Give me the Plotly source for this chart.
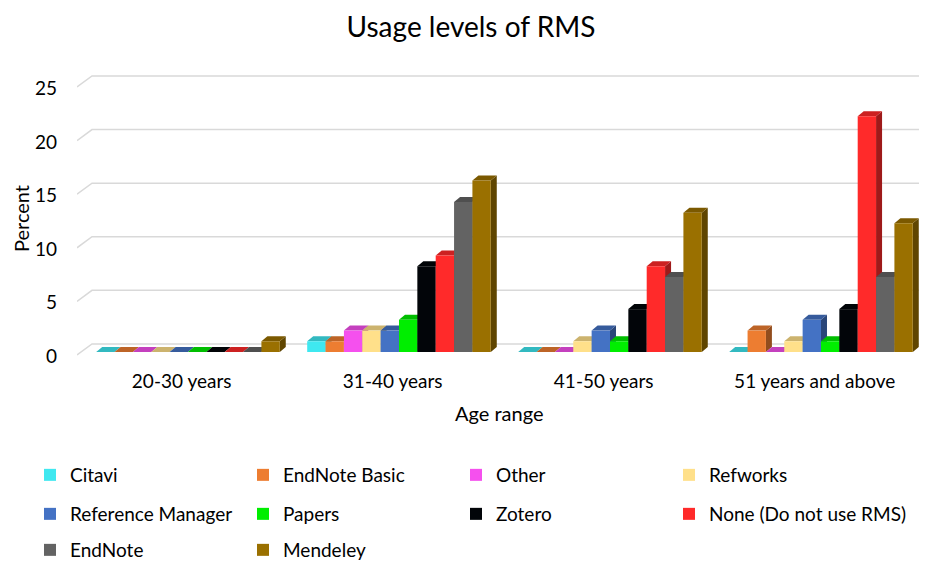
import plotly.graph_objects as go

categories = ["20-30 years", "31-40 years", "41-50 years", "51 years and above"]
series_names = ["Citavi", "EndNote Basic", "Other", "Refworks", "Reference Manager",
                "Papers", "Zotero", "None (Do not use RMS)", "EndNote", "Mendeley"]
citavi = [0, 1, 0, 0]
endnote_basic = [0, 1, 0, 2]
other = [0, 2, 0, 0]
refworks = [0, 2, 1, 1]
reference_manager = [0, 2, 2, 3]
papers = [0, 3, 1, 1]
zotero = [0, 8, 4, 4]
none_rms = [0, 9, 8, 22]
endnote = [0, 14, 7, 7]
mendeley = [1, 16, 13, 12]
series_values = [citavi, endnote_basic, other, refworks, reference_manager,
                 papers, zotero, none_rms, endnote, mendeley]
colors = ["#3FE8F0", "#ED7D31", "#F550EE", "#FFE08A", "#4472C4",
          "#00EE00", "#020509", "#FF2A2A", "#636363", "#9A7000"]
y_ticks = [0, 5, 10, 15, 20, 25]

FONT = "Lato"
W, H = 927, 561
OFF = 8  # page body margin offset
ML = 77 - OFF
MR = W - (925 - OFF)
MT = 65 - OFF
MB = H - (362 - OFF)
PW = W - ML - MR
PH = H - MT - MB
n = len(series_names)
group_w = 0.87
bw = group_w / n
px_x = 211.0          # pixels per category unit
px_y = 10.72          # pixels per percent unit
dx = 6 / px_x         # depth offset (x)
dy = 5 / px_y         # depth offset (y)
x0 = -0.526
x1 = x0 + PW / px_x
y0 = -(362 - 352) / px_y
y1 = (352 - 65) / px_y
label_nudge = -0.03


def shade(hexc, f):
    h = hexc.lstrip("#")
    r, g, b = (int(h[i:i + 2], 16) for i in (0, 2, 4))
    return "#%02x%02x%02x" % (int(r * f), int(g * f), int(b * f))


def px2paper(px, py):
    px -= OFF
    py -= OFF
    return (px - ML) / PW, (H - MB - py) / PH


fig = go.Figure()
shapes = []

# back-wall style gridlines
for v in y_ticks:
    path = "M %f,%f L %f,%f L %f,%f" % (x0, v - 0.28, x0 + 15 / px_x, v + 0.75, x1, v + 0.75)
    shapes.append(dict(type="path", path=path, xref="x", yref="y", layer="below",
                       line=dict(color="#D9D9D9", width=1.5)))

# legend assignment per series
legend_of = ["legend", "legend", "legend", "legend", "legend2", "legend2", "legend2",
             "legend4", "legend3", "legend3"]

for i, (name, vals, col) in enumerate(zip(series_names, series_values, colors)):
    offset = -group_w / 2 + i * bw
    xs = list(range(len(categories)))
    fig.add_trace(go.Bar(
        x=xs, y=vals, name=name, width=bw, offset=offset,
        marker=dict(color=col, line=dict(width=0)),
        legend=legend_of[i],
    ))
    for g, v in enumerate(vals):
        xl = g + offset
        xr = xl + bw
        side = "M %f,%f L %f,%f L %f,%f L %f,%f Z" % (xr, 0, xr + dx, dy, xr + dx, v + dy, xr, v)
        top = "M %f,%f L %f,%f L %f,%f L %f,%f Z" % (xl, v, xl + dx, v + dy, xr + dx, v + dy, xr, v)
        shapes.append(dict(type="path", path=side, xref="x", yref="y", layer="below",
                           fillcolor=shade(col, 0.62), line=dict(width=0)))
        shapes.append(dict(type="path", path=top, xref="x", yref="y", layer="below",
                           fillcolor=shade(col, 0.8), line=dict(width=0)))

legend_common = dict(orientation="h", xref="container", yref="container",
                     xanchor="left", yanchor="middle", entrywidth=168, entrywidthmode="pixels",
                     itemwidth=30, font=dict(family=FONT, size=19, color="#000000"),
                     bgcolor="rgba(0,0,0,0)", traceorder="normal")
row_y = [475, 514, 550]
col_step = 213
leg_x = 30
legends = {
    "legend": dict(legend_common, x=(leg_x - OFF) / W, y=1 - (row_y[0] - OFF) / H),
    "legend2": dict(legend_common, x=(leg_x - OFF) / W, y=1 - (row_y[1] - OFF) / H),
    "legend3": dict(legend_common, x=(leg_x - OFF) / W, y=1 - (row_y[2] - OFF) / H),
    "legend4": dict(legend_common, x=(leg_x + 3 * col_step - OFF) / W,
                    y=1 - (row_y[1] - OFF) / H, entrywidth=0),
}

px_t, py_t = px2paper(21, 219)
px_a, py_a = px2paper(499, 413)

fig.update_layout(
    width=W, height=H,
    margin=dict(l=ML, r=MR, t=MT, b=MB, autoexpand=False),
    paper_bgcolor="white", plot_bgcolor="white",
    title=dict(text="Usage levels of RMS", x=(471 - OFF) / W, xanchor="center",
               y=1 - (27 - OFF) / H, yanchor="middle",
               font=dict(family=FONT, size=28, color="#000000")),
    barmode="overlay",
    shapes=shapes,
    showlegend=True,
    xaxis=dict(range=[x0, x1], tickvals=[g + label_nudge for g in range(len(categories))],
               ticktext=categories, showgrid=False, zeroline=False, showline=False,
               ticks="", ticklabelstandoff=6, automargin=False,
               tickfont=dict(family=FONT, size=19, color="#000000")),
    yaxis=dict(range=[y0, y1], tickvals=[v - 0.4 for v in y_ticks],
               ticktext=[str(v) for v in y_ticks], showgrid=False, zeroline=False,
               showline=False, ticks="", ticklabelstandoff=19, automargin=False,
               tickfont=dict(family=FONT, size=19, color="#000000")),
    annotations=[
        dict(text="Percent", x=px_t, y=py_t, xref="paper", yref="paper",
             showarrow=False, textangle=-90, font=dict(family=FONT, size=20, color="#000000"),
             xanchor="center", yanchor="middle"),
        dict(text="Age range", x=px_a, y=py_a, xref="paper", yref="paper",
             showarrow=False, font=dict(family=FONT, size=20, color="#000000"),
             xanchor="center", yanchor="middle"),
    ],
    **legends,
)

fig.write_html("out.html")
